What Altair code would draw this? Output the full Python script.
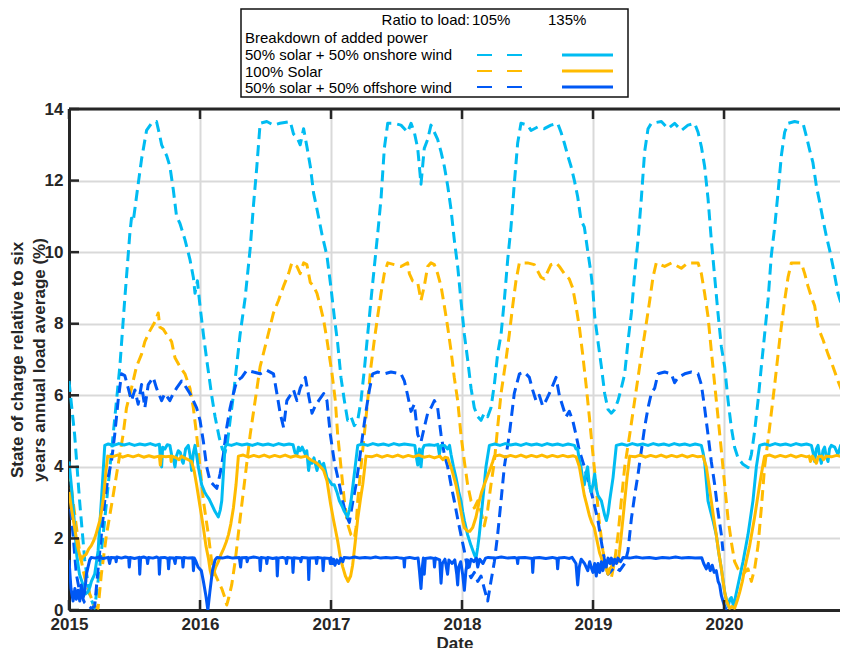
import altair as alt
import pandas as pd

# ---------------- data (decimal year, state of charge %) ----------------
onshore_105 = [
(2015.000, 6.4), (2015.043, 4.9), (2015.082, 3.0), (2015.120, 1.4), (2015.158, 0.4), (2015.196, 0.05), (2015.235, 1.2),
(2015.286, 3.0), (2015.337, 4.9), (2015.388, 6.8), (2015.426, 8.7), (2015.464, 10.5), (2015.477, 10.95), (2015.490, 10.85),
(2015.528, 11.9), (2015.554, 12.6), (2015.592, 13.4), (2015.630, 13.6), (2015.668, 13.65), (2015.690, 13.3), (2015.707, 13.0),
(2015.745, 12.7), (2015.770, 12.4), (2015.796, 11.75), (2015.821, 11.0), (2015.847, 10.8), (2015.885, 10.35), (2015.923, 9.8),
(2015.949, 9.3), (2015.962, 8.85), (2015.980, 9.2), (2016.000, 8.5), (2016.026, 7.7), (2016.051, 7.0), (2016.089, 6.0),
(2016.115, 5.4), (2016.148, 4.8), (2016.170, 4.5), (2016.191, 4.4), (2016.210, 4.7), (2016.230, 5.3), (2016.255, 6.0),
(2016.306, 7.7), (2016.344, 8.7), (2016.383, 10.1), (2016.408, 11.3), (2016.434, 12.4), (2016.459, 13.6), (2016.510, 13.65),
(2016.561, 13.55), (2016.610, 13.6), (2016.689, 13.65), (2016.714, 13.3), (2016.740, 13.2), (2016.753, 13.1), (2016.765, 13.0),
(2016.791, 13.45), (2016.816, 12.95), (2016.842, 12.4), (2016.867, 11.65), (2016.893, 11.2), (2016.931, 10.5), (2016.969, 9.9),
(2017.000, 9.0), (2017.025, 8.2), (2017.051, 7.45), (2017.076, 6.5), (2017.102, 5.85), (2017.127, 5.3), (2017.153, 5.4),
(2017.178, 5.15), (2017.204, 5.3), (2017.229, 5.85), (2017.254, 6.7), (2017.280, 7.7), (2017.305, 8.65), (2017.331, 9.6),
(2017.356, 10.5), (2017.382, 11.5), (2017.407, 12.9), (2017.433, 13.6), (2017.483, 13.6), (2017.534, 13.55), (2017.585, 13.35),
(2017.611, 13.6), (2017.636, 13.35), (2017.662, 12.9), (2017.687, 11.9), (2017.712, 12.9), (2017.738, 13.15), (2017.763, 13.55),
(2017.789, 13.35), (2017.814, 13.15), (2017.840, 12.8), (2017.865, 12.4), (2017.891, 11.85), (2017.916, 11.2), (2017.941, 10.35),
(2017.967, 9.6), (2017.992, 8.65), (2018.018, 7.7), (2018.043, 7.0), (2018.069, 6.2), (2018.094, 5.65), (2018.120, 5.4),
(2018.145, 5.3), (2018.170, 5.5), (2018.196, 5.4), (2018.221, 5.65), (2018.247, 6.3), (2018.272, 7.15), (2018.298, 7.7),
(2018.323, 8.65), (2018.349, 9.8), (2018.374, 10.7), (2018.399, 11.9), (2018.425, 13.05), (2018.450, 13.6), (2018.501, 13.55),
(2018.527, 13.4), (2018.578, 13.5), (2018.628, 13.45), (2018.679, 13.55), (2018.730, 13.6), (2018.756, 13.35), (2018.781, 13.05),
(2018.807, 12.7), (2018.832, 12.4), (2018.858, 12.0), (2018.883, 11.55), (2018.908, 10.9), (2018.934, 10.7), (2018.959, 10.05),
(2018.985, 9.4), (2019.000, 8.9), (2019.013, 8.2), (2019.038, 7.5), (2019.064, 6.8), (2019.089, 6.05), (2019.115, 5.6),
(2019.140, 5.5), (2019.165, 5.6), (2019.191, 5.85), (2019.216, 6.2), (2019.242, 6.6), (2019.267, 7.5), (2019.293, 8.3),
(2019.318, 9.4), (2019.344, 10.35), (2019.369, 11.5), (2019.394, 12.8), (2019.420, 13.45), (2019.445, 13.6), (2019.522, 13.65),
(2019.573, 13.45), (2019.623, 13.6), (2019.674, 13.4), (2019.725, 13.55), (2019.776, 13.6), (2019.802, 13.35), (2019.827, 12.95),
(2019.852, 12.4), (2019.878, 11.5), (2019.903, 10.35), (2019.929, 9.3), (2019.954, 8.3), (2019.980, 7.35), (2020.005, 6.8),
(2020.031, 5.85), (2020.056, 5.1), (2020.081, 4.55), (2020.107, 4.25), (2020.145, 4.07), (2020.183, 3.98), (2020.209, 4.35),
(2020.234, 5.0), (2020.260, 5.85), (2020.285, 6.8), (2020.310, 7.7), (2020.336, 8.65), (2020.361, 9.9), (2020.387, 10.7),
(2020.412, 11.65), (2020.438, 12.7), (2020.463, 13.35), (2020.489, 13.6), (2020.539, 13.65), (2020.603, 13.6), (2020.628, 13.25),
(2020.654, 12.85), (2020.679, 12.5), (2020.705, 11.85), (2020.730, 11.4), (2020.756, 10.9), (2020.781, 10.45), (2020.807, 10.05),
(2020.832, 9.6), (2020.870, 8.85), (2020.908, 8.4), (2020.944, 7.55)]

solar_105 = [
(2015.000, 3.9), (2015.043, 2.7), (2015.082, 1.6), (2015.120, 0.9), (2015.158, 0.45), (2015.196, 0.1), (2015.222, 0.05),
(2015.247, 1.0), (2015.286, 2.1), (2015.337, 3.2), (2015.388, 4.35), (2015.413, 4.9), (2015.439, 5.65), (2015.477, 6.2),
(2015.515, 6.8), (2015.554, 7.15), (2015.579, 7.5), (2015.617, 7.8), (2015.656, 8.05), (2015.681, 8.3), (2015.694, 7.9),
(2015.719, 7.85), (2015.745, 7.7), (2015.783, 7.5), (2015.809, 7.05), (2015.847, 6.8), (2015.885, 6.6), (2015.923, 6.2),
(2015.949, 5.65), (2015.974, 4.9), (2016.000, 4.0), (2016.026, 3.05), (2016.064, 2.1), (2016.089, 1.35), (2016.115, 1.0),
(2016.140, 0.8), (2016.166, 0.6), (2016.191, 0.33), (2016.204, 0.14), (2016.220, 0.35), (2016.242, 0.7), (2016.268, 1.35),
(2016.306, 2.55), (2016.344, 3.7), (2016.383, 4.9), (2016.421, 5.85), (2016.459, 6.8), (2016.510, 7.55), (2016.561, 8.3),
(2016.599, 8.65), (2016.638, 9.05), (2016.676, 9.4), (2016.701, 9.7), (2016.740, 9.6), (2016.765, 9.4), (2016.791, 9.7),
(2016.816, 9.65), (2016.842, 9.15), (2016.867, 9.05), (2016.893, 8.85), (2016.918, 8.5), (2016.944, 8.1), (2016.969, 7.55),
(2017.008, 6.6), (2017.033, 5.85), (2017.051, 4.9), (2017.076, 4.0), (2017.102, 3.05), (2017.127, 2.4), (2017.153, 2.1),
(2017.178, 2.0), (2017.191, 2.3), (2017.204, 3.05), (2017.229, 4.0), (2017.254, 4.9), (2017.280, 5.85), (2017.305, 6.8),
(2017.331, 7.55), (2017.356, 8.2), (2017.382, 8.85), (2017.407, 9.4), (2017.433, 9.7), (2017.483, 9.65), (2017.534, 9.6),
(2017.585, 9.7), (2017.598, 9.4), (2017.623, 9.2), (2017.662, 9.15), (2017.687, 8.65), (2017.712, 9.05), (2017.738, 9.6),
(2017.763, 9.7), (2017.789, 9.65), (2017.814, 9.4), (2017.840, 9.05), (2017.865, 8.5), (2017.891, 7.9), (2017.916, 7.25),
(2017.941, 6.5), (2017.967, 5.85), (2017.992, 4.9), (2018.018, 4.15), (2018.043, 3.5), (2018.069, 3.05), (2018.094, 2.85),
(2018.120, 3.05), (2018.145, 2.75), (2018.170, 2.35), (2018.196, 2.8), (2018.221, 3.5), (2018.247, 4.15), (2018.272, 5.1),
(2018.298, 6.05), (2018.336, 7.0), (2018.361, 7.7), (2018.387, 8.5), (2018.412, 9.2), (2018.438, 9.7), (2018.501, 9.7),
(2018.552, 9.65), (2018.603, 9.3), (2018.628, 9.25), (2018.679, 9.65), (2018.718, 9.7), (2018.743, 9.6), (2018.781, 9.4),
(2018.819, 9.25), (2018.845, 9.0), (2018.870, 8.5), (2018.896, 7.9), (2018.921, 7.15), (2018.947, 6.3), (2018.972, 5.4),
(2018.997, 4.45), (2019.023, 3.5), (2019.045, 2.55), (2019.076, 1.65), (2019.115, 1.0), (2019.140, 0.9), (2019.165, 1.35),
(2019.191, 2.1), (2019.216, 3.05), (2019.242, 4.0), (2019.280, 4.9), (2019.318, 5.85), (2019.356, 6.8), (2019.394, 7.7),
(2019.433, 8.65), (2019.458, 9.3), (2019.483, 9.7), (2019.547, 9.6), (2019.600, 9.7), (2019.674, 9.55), (2019.725, 9.7),
(2019.802, 9.7), (2019.827, 9.4), (2019.852, 8.85), (2019.878, 8.2), (2019.903, 7.25), (2019.929, 6.3), (2019.954, 5.4),
(2019.980, 4.45), (2020.005, 3.5), (2020.031, 2.55), (2020.056, 1.9), (2020.081, 1.35), (2020.107, 1.15), (2020.145, 1.0),
(2020.183, 1.15), (2020.209, 0.8), (2020.234, 1.15), (2020.260, 1.8), (2020.285, 2.85), (2020.310, 4.0), (2020.348, 5.1),
(2020.387, 6.3), (2020.425, 7.55), (2020.463, 8.65), (2020.489, 9.3), (2020.514, 9.7), (2020.590, 9.7), (2020.616, 9.4),
(2020.641, 9.05), (2020.667, 8.75), (2020.692, 8.5), (2020.718, 7.9), (2020.756, 7.55), (2020.794, 7.15), (2020.832, 6.8),
(2020.870, 6.4), (2020.908, 6.05), (2020.944, 5.6)]

offshore_105 = [
(2015.000, 3.3), (2015.031, 2.1), (2015.056, 1.0), (2015.082, 0.5), (2015.120, 0.2), (2015.171, 0.05), (2015.196, 0.1),
(2015.222, 1.15), (2015.247, 2.1), (2015.273, 3.05), (2015.298, 3.7), (2015.324, 4.15), (2015.349, 4.9), (2015.375, 5.85),
(2015.401, 6.6), (2015.426, 6.55), (2015.452, 6.2), (2015.477, 5.85), (2015.503, 6.15), (2015.528, 5.75), (2015.554, 6.3),
(2015.579, 5.65), (2015.605, 6.3), (2015.643, 6.5), (2015.668, 6.2), (2015.707, 5.85), (2015.732, 6.05), (2015.770, 5.85),
(2015.796, 6.05), (2015.821, 6.2), (2015.860, 6.4), (2015.898, 6.2), (2015.923, 6.05), (2015.949, 5.85), (2015.974, 5.65),
(2016.000, 5.3), (2016.026, 4.7), (2016.051, 4.0), (2016.077, 3.6), (2016.102, 3.5), (2016.128, 3.4), (2016.153, 3.8),
(2016.179, 4.35), (2016.204, 5.1), (2016.230, 5.65), (2016.255, 6.05), (2016.281, 6.4), (2016.319, 6.5), (2016.357, 6.7),
(2016.408, 6.65), (2016.459, 6.6), (2016.510, 6.7), (2016.561, 6.6), (2016.587, 6.05), (2016.612, 5.5), (2016.638, 5.1),
(2016.663, 5.85), (2016.689, 6.0), (2016.714, 6.15), (2016.740, 5.85), (2016.765, 6.2), (2016.804, 6.5), (2016.829, 6.0),
(2016.855, 5.5), (2016.880, 5.7), (2016.906, 5.85), (2016.944, 6.05), (2016.969, 5.85), (2016.995, 4.9), (2017.025, 4.15),
(2017.064, 3.5), (2017.089, 3.05), (2017.115, 2.65), (2017.140, 2.45), (2017.165, 3.0), (2017.191, 3.5), (2017.216, 4.15),
(2017.242, 4.9), (2017.267, 5.55), (2017.293, 6.15), (2017.318, 6.6), (2017.356, 6.65), (2017.407, 6.6), (2017.458, 6.65),
(2017.534, 6.6), (2017.560, 6.4), (2017.585, 6.0), (2017.611, 5.55), (2017.636, 5.75), (2017.662, 4.9), (2017.687, 4.7),
(2017.712, 5.1), (2017.738, 5.5), (2017.763, 5.65), (2017.789, 5.85), (2017.814, 5.65), (2017.840, 4.9), (2017.865, 4.35),
(2017.891, 4.0), (2017.916, 3.5), (2017.941, 3.05), (2017.967, 2.55), (2017.992, 2.1), (2018.018, 1.65), (2018.043, 1.15),
(2018.069, 0.9), (2018.094, 1.05), (2018.120, 0.8), (2018.145, 0.95), (2018.170, 0.6), (2018.196, 0.25), (2018.221, 0.8),
(2018.247, 1.35), (2018.272, 2.1), (2018.298, 3.05), (2018.323, 4.0), (2018.361, 4.9), (2018.399, 6.05), (2018.438, 6.6),
(2018.476, 6.65), (2018.514, 6.5), (2018.539, 6.15), (2018.565, 5.85), (2018.590, 6.0), (2018.616, 5.7), (2018.641, 5.85),
(2018.679, 6.15), (2018.718, 6.5), (2018.743, 6.0), (2018.768, 5.7), (2018.794, 5.4), (2018.819, 5.55), (2018.845, 5.3),
(2018.870, 4.9), (2018.896, 4.45), (2018.934, 4.0), (2018.972, 3.5), (2019.000, 3.1), (2019.038, 2.5), (2019.064, 1.9),
(2019.089, 1.35), (2019.115, 1.0), (2019.165, 1.2), (2019.204, 1.1), (2019.242, 1.3), (2019.267, 1.65), (2019.293, 2.55),
(2019.318, 3.2), (2019.344, 3.8), (2019.369, 4.45), (2019.394, 5.1), (2019.420, 5.65), (2019.445, 6.05), (2019.471, 6.2),
(2019.496, 6.6), (2019.547, 6.65), (2019.598, 6.6), (2019.623, 6.35), (2019.649, 6.5), (2019.700, 6.6), (2019.751, 6.65),
(2019.802, 6.6), (2019.827, 6.3), (2019.852, 5.65), (2019.878, 4.9), (2019.903, 4.15), (2019.929, 3.5), (2019.954, 2.75),
(2019.980, 2.1), (2019.992, 1.65)]

onshore_135 = [
(2015.000, 4.15), (2015.020, 3.4), (2015.040, 2.5), (2015.060, 1.5), (2015.080, 1.0), (2015.107, 0.7), (2015.125, 0.45),
(2015.145, 0.5), (2015.160, 0.65), (2015.171, 0.8), (2015.196, 1.0), (2015.222, 1.65), (2015.247, 3.05), (2015.273, 4.6),
(2015.300, 4.64), (2015.340, 4.6), (2015.380, 4.65), (2015.420, 4.61), (2015.460, 4.65), (2015.500, 4.6), (2015.540, 4.64),
(2015.580, 4.61), (2015.620, 4.65), (2015.660, 4.6), (2015.690, 4.63), (2015.700, 4.1), (2015.707, 4.0), (2015.715, 4.55),
(2015.732, 4.5), (2015.750, 4.62), (2015.770, 4.6), (2015.785, 4.3), (2015.796, 4.25), (2015.809, 4.0), (2015.820, 4.3),
(2015.834, 4.45), (2015.850, 4.4), (2015.865, 4.15), (2015.872, 4.1), (2015.890, 4.5), (2015.911, 4.6), (2015.925, 4.3),
(2015.936, 3.9), (2015.950, 4.4), (2015.962, 4.6), (2015.975, 4.3), (2015.987, 4.0), (2016.013, 3.5), (2016.035, 3.3),
(2016.051, 3.2), (2016.070, 3.1), (2016.089, 2.95), (2016.115, 2.75), (2016.140, 2.6), (2016.155, 2.8), (2016.166, 3.05),
(2016.180, 3.9), (2016.191, 4.55), (2016.204, 4.63), (2016.240, 4.6), (2016.280, 4.65), (2016.320, 4.61), (2016.360, 4.64),
(2016.400, 4.6), (2016.440, 4.65), (2016.480, 4.61), (2016.520, 4.64), (2016.560, 4.6), (2016.600, 4.65), (2016.640, 4.61),
(2016.680, 4.64), (2016.710, 4.62), (2016.725, 4.4), (2016.740, 4.35), (2016.752, 4.55), (2016.765, 4.45), (2016.780, 4.55),
(2016.804, 4.35), (2016.815, 4.45), (2016.829, 3.9), (2016.840, 4.2), (2016.855, 4.1), (2016.870, 4.25), (2016.893, 3.9),
(2016.910, 4.15), (2016.925, 4.0), (2016.944, 4.1), (2016.969, 3.7), (2016.990, 3.6), (2017.008, 3.5), (2017.025, 3.5),
(2017.045, 3.3), (2017.064, 3.05), (2017.085, 2.9), (2017.102, 2.75), (2017.127, 2.6), (2017.140, 2.8), (2017.153, 3.05),
(2017.178, 3.8), (2017.204, 4.6), (2017.240, 4.64), (2017.280, 4.6), (2017.320, 4.65), (2017.360, 4.61), (2017.400, 4.64),
(2017.440, 4.6), (2017.480, 4.65), (2017.520, 4.61), (2017.560, 4.64), (2017.600, 4.62), (2017.640, 4.6), (2017.655, 4.2),
(2017.662, 4.05), (2017.675, 4.5), (2017.687, 4.0), (2017.700, 4.5), (2017.712, 4.6), (2017.750, 4.62), (2017.790, 4.6),
(2017.815, 4.63), (2017.827, 4.35), (2017.840, 4.6), (2017.865, 4.6), (2017.890, 4.5), (2017.905, 4.6), (2017.916, 4.35),
(2017.935, 4.0), (2017.954, 3.7), (2017.975, 3.3), (2017.992, 3.05), (2018.005, 2.75), (2018.018, 2.5), (2018.043, 2.1),
(2018.069, 1.8), (2018.094, 1.55), (2018.107, 1.45), (2018.120, 1.75), (2018.132, 2.1), (2018.158, 3.05), (2018.183, 4.0),
(2018.209, 4.6), (2018.250, 4.64), (2018.290, 4.6), (2018.330, 4.65), (2018.370, 4.61), (2018.410, 4.64), (2018.450, 4.6),
(2018.490, 4.65), (2018.530, 4.61), (2018.570, 4.64), (2018.610, 4.6), (2018.650, 4.65), (2018.690, 4.61), (2018.730, 4.64),
(2018.770, 4.6), (2018.810, 4.64), (2018.858, 4.6), (2018.870, 4.5), (2018.883, 4.5), (2018.895, 4.2), (2018.908, 4.0),
(2018.920, 3.7), (2018.934, 3.5), (2018.945, 3.8), (2018.959, 4.0), (2018.972, 3.5), (2018.985, 3.3), (2019.000, 3.5),
(2019.013, 3.8), (2019.025, 3.4), (2019.038, 3.2), (2019.064, 3.05), (2019.089, 2.65), (2019.102, 2.5), (2019.115, 2.7),
(2019.127, 3.05), (2019.153, 3.7), (2019.178, 4.6), (2019.220, 4.64), (2019.260, 4.6), (2019.300, 4.65), (2019.340, 4.61),
(2019.380, 4.64), (2019.420, 4.6), (2019.460, 4.65), (2019.500, 4.61), (2019.540, 4.64), (2019.580, 4.6), (2019.620, 4.65),
(2019.660, 4.61), (2019.700, 4.64), (2019.740, 4.6), (2019.780, 4.64), (2019.827, 4.6), (2019.840, 4.4), (2019.852, 4.15),
(2019.865, 3.6), (2019.878, 3.05), (2019.895, 2.8), (2019.916, 2.5), (2019.941, 2.1), (2019.960, 1.6), (2019.980, 1.15),
(2020.005, 0.5), (2020.031, 0.1), (2020.045, 0.3), (2020.056, 0.35), (2020.070, 0.15), (2020.081, 0.25), (2020.107, 0.7),
(2020.145, 1.35), (2020.183, 2.1), (2020.221, 3.05), (2020.247, 4.0), (2020.272, 4.6), (2020.310, 4.64), (2020.350, 4.6),
(2020.390, 4.65), (2020.430, 4.61), (2020.470, 4.64), (2020.510, 4.6), (2020.550, 4.65), (2020.590, 4.61), (2020.630, 4.64),
(2020.667, 4.6), (2020.680, 4.4), (2020.692, 4.15), (2020.705, 4.5), (2020.718, 4.6), (2020.730, 4.3), (2020.743, 4.1),
(2020.755, 4.45), (2020.768, 4.55), (2020.780, 4.3), (2020.794, 4.15), (2020.805, 4.5), (2020.819, 4.6), (2020.845, 4.55),
(2020.870, 4.35), (2020.890, 4.6), (2020.908, 4.6), (2020.925, 4.3), (2020.944, 4.1)]

solar_135 = [
(2015.000, 3.3), (2015.020, 2.8), (2015.043, 2.3), (2015.065, 1.8), (2015.090, 1.4), (2015.110, 1.5), (2015.130, 1.55),
(2015.150, 1.7), (2015.170, 1.8), (2015.190, 1.95), (2015.205, 2.1), (2015.220, 2.3), (2015.235, 2.5), (2015.250, 2.8),
(2015.265, 3.2), (2015.280, 3.8), (2015.295, 4.3), (2015.330, 4.28), (2015.370, 4.33), (2015.410, 4.27), (2015.450, 4.32),
(2015.490, 4.28), (2015.530, 4.33), (2015.570, 4.27), (2015.610, 4.31), (2015.650, 4.27), (2015.690, 4.3), (2015.697, 4.05),
(2015.705, 4.3), (2015.740, 4.28), (2015.775, 4.3), (2015.780, 4.15), (2015.787, 4.3), (2015.820, 4.25), (2015.840, 4.2),
(2015.860, 4.3), (2015.880, 4.25), (2015.910, 4.2), (2015.935, 4.15), (2015.955, 3.9), (2015.974, 3.5), (2016.000, 2.9),
(2016.026, 2.3), (2016.045, 1.8), (2016.064, 1.45), (2016.078, 1.1), (2016.089, 0.95), (2016.102, 1.0), (2016.120, 1.2),
(2016.140, 1.35), (2016.160, 1.55), (2016.179, 1.7), (2016.200, 1.9), (2016.217, 2.1), (2016.235, 2.4), (2016.255, 2.85),
(2016.275, 3.5), (2016.293, 4.3), (2016.330, 4.33), (2016.370, 4.27), (2016.410, 4.32), (2016.450, 4.28), (2016.490, 4.33),
(2016.530, 4.27), (2016.570, 4.32), (2016.610, 4.28), (2016.650, 4.33), (2016.690, 4.27), (2016.730, 4.31), (2016.770, 4.27),
(2016.810, 4.3), (2016.842, 4.2), (2016.870, 4.15), (2016.893, 4.1), (2016.920, 4.0), (2016.944, 3.9), (2016.970, 3.6),
(2016.995, 3.0), (2017.020, 2.5), (2017.050, 1.95), (2017.070, 1.5), (2017.090, 1.2), (2017.110, 0.95), (2017.130, 0.8),
(2017.150, 0.95), (2017.165, 1.25), (2017.185, 1.9), (2017.204, 2.55), (2017.225, 3.1), (2017.242, 3.5), (2017.255, 3.9),
(2017.267, 4.3), (2017.310, 4.28), (2017.350, 4.33), (2017.390, 4.27), (2017.430, 4.32), (2017.470, 4.28), (2017.510, 4.33),
(2017.550, 4.27), (2017.590, 4.32), (2017.630, 4.28), (2017.670, 4.33), (2017.710, 4.27), (2017.750, 4.3), (2017.790, 4.25),
(2017.830, 4.3), (2017.855, 4.2), (2017.870, 4.27), (2017.891, 4.25), (2017.905, 4.1), (2017.916, 4.0), (2017.935, 3.75),
(2017.954, 3.5), (2017.975, 3.1), (2017.992, 2.75), (2018.005, 2.5), (2018.018, 2.3), (2018.030, 2.25), (2018.043, 2.2),
(2018.060, 2.2), (2018.081, 2.3), (2018.107, 2.6), (2018.132, 3.05), (2018.150, 3.3), (2018.170, 3.5), (2018.195, 3.75),
(2018.221, 4.0), (2018.235, 4.15), (2018.247, 4.3), (2018.290, 4.33), (2018.330, 4.27), (2018.370, 4.32), (2018.410, 4.28),
(2018.450, 4.33), (2018.490, 4.27), (2018.530, 4.32), (2018.570, 4.28), (2018.610, 4.33), (2018.650, 4.27), (2018.690, 4.32),
(2018.730, 4.28), (2018.770, 4.32), (2018.810, 4.28), (2018.850, 4.31), (2018.870, 4.28), (2018.883, 4.15), (2018.896, 4.0),
(2018.915, 3.6), (2018.934, 3.2), (2018.955, 2.9), (2018.972, 2.65), (2018.990, 2.45), (2019.010, 2.3), (2019.030, 1.95),
(2019.050, 1.6), (2019.064, 1.45), (2019.076, 1.3), (2019.090, 1.2), (2019.100, 1.15), (2019.115, 1.0), (2019.127, 1.15),
(2019.140, 1.2), (2019.153, 1.35), (2019.165, 1.3), (2019.178, 1.35), (2019.191, 1.35), (2019.204, 1.7), (2019.216, 2.1),
(2019.230, 2.6), (2019.242, 3.05), (2019.260, 3.7), (2019.280, 4.3), (2019.320, 4.28), (2019.360, 4.33), (2019.400, 4.27),
(2019.440, 4.32), (2019.480, 4.28), (2019.520, 4.33), (2019.560, 4.27), (2019.600, 4.32), (2019.640, 4.28), (2019.680, 4.33),
(2019.720, 4.27), (2019.760, 4.32), (2019.800, 4.28), (2019.840, 4.3), (2019.852, 4.15), (2019.865, 4.0), (2019.885, 3.5),
(2019.903, 3.05), (2019.920, 2.6), (2019.941, 2.1), (2019.960, 1.6), (2019.980, 1.15), (2019.993, 0.8), (2020.005, 0.5),
(2020.020, 0.25), (2020.043, 0.05), (2020.060, 0.1), (2020.081, 0.05), (2020.100, 0.25), (2020.120, 0.5), (2020.140, 0.8),
(2020.158, 1.15), (2020.178, 1.5), (2020.196, 1.8), (2020.215, 2.2), (2020.234, 2.6), (2020.253, 3.05), (2020.272, 3.5),
(2020.290, 3.9), (2020.310, 4.3), (2020.350, 4.33), (2020.390, 4.27), (2020.430, 4.32), (2020.470, 4.28), (2020.510, 4.33),
(2020.550, 4.27), (2020.590, 4.32), (2020.630, 4.28), (2020.650, 4.3), (2020.660, 4.15), (2020.675, 4.3), (2020.690, 4.2),
(2020.705, 4.1), (2020.720, 4.28), (2020.745, 4.3), (2020.760, 4.2), (2020.780, 4.3), (2020.820, 4.28), (2020.860, 4.32),
(2020.900, 4.28), (2020.944, 4.3)]

offshore_135 = [
(2015.000, 1.4), (2015.015, 0.6), (2015.031, 0.25), (2015.045, 0.6), (2015.056, 0.3), (2015.069, 0.55), (2015.082, 0.25),
(2015.094, 0.7), (2015.108, 0.35), (2015.120, 0.5), (2015.133, 1.0), (2015.145, 1.2), (2015.158, 1.4), (2015.170, 1.47),
(2015.200, 1.45), (2015.230, 1.48), (2015.260, 1.44), (2015.300, 1.47), (2015.310, 1.3), (2015.320, 1.47), (2015.355, 1.46),
(2015.360, 1.35), (2015.365, 1.48), (2015.400, 1.45), (2015.430, 1.48), (2015.455, 1.46), (2015.460, 1.2), (2015.467, 1.47),
(2015.500, 1.44), (2015.535, 1.47), (2015.540, 1.0), (2015.547, 1.46), (2015.570, 1.48), (2015.595, 1.45), (2015.600, 1.3),
(2015.607, 1.47), (2015.640, 1.45), (2015.670, 1.48), (2015.685, 1.45), (2015.690, 1.0), (2015.697, 1.46), (2015.730, 1.47),
(2015.755, 1.44), (2015.760, 1.15), (2015.767, 1.46), (2015.800, 1.45), (2015.810, 1.3), (2015.817, 1.47), (2015.850, 1.46),
(2015.865, 1.45), (2015.870, 1.2), (2015.877, 1.47), (2015.910, 1.45), (2015.945, 1.46), (2015.950, 1.1), (2015.957, 1.45),
(2015.970, 1.35), (2015.985, 1.2), (2016.010, 1.1), (2016.026, 0.8), (2016.045, 0.4), (2016.060, 0.0), (2016.075, 0.5),
(2016.095, 1.1), (2016.115, 1.4), (2016.130, 1.47), (2016.170, 1.45), (2016.210, 1.48), (2016.250, 1.45), (2016.300, 1.47),
(2016.310, 1.2), (2016.317, 1.46), (2016.355, 1.47), (2016.360, 1.35), (2016.367, 1.45), (2016.410, 1.48), (2016.455, 1.45),
(2016.460, 1.1), (2016.467, 1.47), (2016.505, 1.45), (2016.510, 1.3), (2016.517, 1.47), (2016.555, 1.44), (2016.585, 1.46),
(2016.590, 0.95), (2016.597, 1.45), (2016.630, 1.47), (2016.655, 1.44), (2016.660, 1.3), (2016.667, 1.47), (2016.705, 1.45),
(2016.710, 1.05), (2016.717, 1.46), (2016.765, 1.44), (2016.770, 1.35), (2016.777, 1.47), (2016.825, 1.45), (2016.830, 0.85),
(2016.837, 1.45), (2016.885, 1.46), (2016.890, 1.3), (2016.897, 1.47), (2016.935, 1.45), (2016.940, 1.1), (2016.947, 1.45),
(2016.990, 1.44), (2016.995, 1.3), (2017.000, 1.46), (2017.010, 1.3), (2017.020, 1.42), (2017.030, 1.25), (2017.045, 1.4),
(2017.060, 1.3), (2017.075, 1.45), (2017.090, 1.35), (2017.100, 1.47), (2017.140, 1.45), (2017.180, 1.48), (2017.220, 1.45),
(2017.260, 1.47), (2017.300, 1.45), (2017.340, 1.48), (2017.380, 1.45), (2017.420, 1.47), (2017.460, 1.45), (2017.500, 1.47),
(2017.530, 1.45), (2017.555, 1.44), (2017.560, 1.2), (2017.565, 1.45), (2017.600, 1.47), (2017.640, 1.44), (2017.665, 1.45),
(2017.675, 1.1), (2017.687, 0.6), (2017.697, 1.2), (2017.705, 1.45), (2017.712, 1.0), (2017.720, 1.44), (2017.760, 1.46),
(2017.785, 1.44), (2017.790, 1.2), (2017.797, 1.45), (2017.830, 1.4), (2017.840, 0.75), (2017.850, 1.3), (2017.870, 1.42),
(2017.890, 1.0), (2017.900, 1.4), (2017.925, 1.3), (2017.945, 1.4), (2017.960, 1.0), (2017.967, 0.7), (2017.975, 1.2),
(2017.990, 1.35), (2018.005, 1.0), (2018.018, 0.55), (2018.030, 1.1), (2018.043, 1.4), (2018.055, 1.2), (2018.069, 1.42),
(2018.090, 1.35), (2018.110, 1.45), (2018.120, 1.2), (2018.135, 1.42), (2018.160, 1.3), (2018.180, 1.45), (2018.200, 1.47),
(2018.250, 1.45), (2018.300, 1.48), (2018.350, 1.45), (2018.400, 1.47), (2018.420, 1.44), (2018.425, 1.3), (2018.430, 1.46),
(2018.480, 1.47), (2018.535, 1.44), (2018.540, 1.05), (2018.547, 1.45), (2018.590, 1.47), (2018.640, 1.44), (2018.690, 1.47),
(2018.725, 1.44), (2018.730, 1.15), (2018.737, 1.45), (2018.780, 1.47), (2018.820, 1.44), (2018.840, 1.47), (2018.870, 1.3),
(2018.883, 0.7), (2018.895, 1.2), (2018.910, 1.42), (2018.935, 1.3), (2018.960, 1.1), (2018.975, 1.35), (2018.990, 1.15),
(2019.000, 1.05), (2019.013, 1.3), (2019.025, 0.95), (2019.038, 1.3), (2019.051, 1.05), (2019.064, 1.35), (2019.076, 1.1),
(2019.089, 1.4), (2019.100, 1.2), (2019.115, 1.45), (2019.130, 1.3), (2019.140, 1.45), (2019.155, 1.25), (2019.165, 1.42),
(2019.180, 1.3), (2019.190, 1.45), (2019.210, 1.35), (2019.230, 1.47), (2019.280, 1.45), (2019.330, 1.48), (2019.380, 1.45),
(2019.430, 1.47), (2019.480, 1.44), (2019.530, 1.47), (2019.580, 1.45), (2019.630, 1.48), (2019.680, 1.45), (2019.730, 1.47),
(2019.780, 1.45), (2019.830, 1.46), (2019.845, 1.3), (2019.865, 1.15), (2019.880, 1.3), (2019.895, 1.1), (2019.910, 1.25),
(2019.925, 1.05), (2019.941, 1.1), (2019.955, 0.8), (2019.967, 0.7), (2019.980, 0.4), (2019.992, 0.25), (2020.005, 0.1),
(2020.018, 0.0)]

x_ticks = [2015, 2016, 2017, 2018, 2019, 2020]
y_ticks = [0, 2, 4, 6, 8, 10, 12, 14]

# ---------------- styling ----------------
CYAN, ORANGE, BLUE = "#00BCF2", "#FFBB00", "#0058F5"
DARK = "#262626"
GRID = "#d9d9d9"
FONT = "Liberation Sans"
W, H = 771, 501
DASH = [11, 6]

series = [
    ("onshore_105", onshore_105, CYAN, True),
    ("solar_105", solar_105, ORANGE, True),
    ("offshore_105", offshore_105, BLUE, True),
    ("onshore_135", onshore_135, CYAN, False),
    ("solar_135", solar_135, ORANGE, False),
    ("offshore_135", offshore_135, BLUE, False),
]

rows = []
for name, pts, _, _ in series:
    for t, v in pts:
        rows.append({"series": name, "year": t, "value": v})
df = pd.DataFrame(rows)

xscale = alt.Scale(domain=[2015, 2015 + W / 131.0], nice=False, zero=False)
yscale = alt.Scale(domain=[0, 14], nice=False, zero=False)

xaxis = alt.Axis(values=x_ticks, format="d", title="Date", grid=True, gridColor=GRID, gridWidth=2,
                 ticks=False, labelFlush=False, labelFontSize=17, labelFontWeight="bold", labelColor=DARK,
                 labelPadding=6, titleFontSize=17, titleFontWeight="bold", titleColor=DARK,
                 titleY=25, titleBaseline="top", domainColor=DARK, domainWidth=3, labelFont=FONT, titleFont=FONT)
yaxis = alt.Axis(values=y_ticks, title=["State of charge relative to six", "years annual load average (%)"],
                 grid=True, gridColor=GRID, gridWidth=2, ticks=False, labelFontSize=17, labelFontWeight="bold",
                 labelColor=DARK, labelPadding=6, titleFontSize=17, titleFontWeight="bold", titleColor=DARK,
                 titleX=-43, titleY=H / 2, titleBaseline="bottom", titleLineHeight=22, titleAngle=270,
                 domainColor=DARK, domainWidth=3, labelFont=FONT, titleFont=FONT, labelFlush=False)

X = alt.X("year:Q", scale=xscale, axis=xaxis)
Y = alt.Y("value:Q", scale=yscale, axis=yaxis)

layers = []
for name, pts, color, dashed in series:
    kw = dict(color=color, strokeWidth=3, clip=True, strokeJoin="round")
    if dashed:
        kw["strokeDash"] = DASH
    layers.append(
        alt.Chart(df).transform_filter(alt.datum.series == name).mark_line(**kw).encode(x=X, y=Y)
    )

# inward ticks (MATLAB style)
ytick_df = pd.DataFrame({"value": y_ticks})
xtick_df = pd.DataFrame({"year": x_ticks})
layers.append(alt.Chart(ytick_df).mark_rule(color=DARK, strokeWidth=2.5).encode(
    y=Y, x=alt.value(0), x2=alt.value(10)))
layers.append(alt.Chart(xtick_df).mark_rule(color=DARK, strokeWidth=2.5).encode(
    x=X, y=alt.value(H), y2=alt.value(H - 10)))
layers.append(alt.Chart(xtick_df).mark_rule(color=DARK, strokeWidth=2.5).encode(
    x=X, y=alt.value(0), y2=alt.value(10)))

one = pd.DataFrame({"k": [0]})
# top border of the box
layers.append(alt.Chart(one).mark_rule(color=DARK, strokeWidth=3).encode(
    x=alt.value(0), x2=alt.value(W), y=alt.value(0)))

# ---------------- legend box ----------------
layers.append(alt.Chart(one).mark_rect(fill="white", stroke="#111111", strokeWidth=1.5).encode(
    x=alt.value(172), x2=alt.value(559), y=alt.value(-100), y2=alt.value(-12)))

legend_texts = [
    ("Ratio to load:", 401, -89, "right"),
    ("105%", 403, -89, "left"),
    ("135%", 479, -89, "left"),
    ("Breakdown of added power", 176, -71, "left"),
    ("50% solar + 50% onshore wind", 176, -54, "left"),
    ("100% Solar", 176, -37, "left"),
    ("50% solar + 50% offshore wind", 176, -21, "left"),
]
for txt, tx, ty, al in legend_texts:
    layers.append(alt.Chart(one).mark_text(text=txt, align=al, baseline="middle", font=FONT,
                                           fontSize=15, color="black").encode(
        x=alt.value(tx), y=alt.value(ty)))

legend_lines = [(CYAN, -54), (ORANGE, -38), (BLUE, -22)]
for color, ly in legend_lines:
    layers.append(alt.Chart(one).mark_rule(color=color, strokeWidth=2.2, strokeDash=[15, 15]).encode(
        x=alt.value(408), x2=alt.value(453), y=alt.value(ly)))
    layers.append(alt.Chart(one).mark_rule(color=color, strokeWidth=3).encode(
        x=alt.value(493), x2=alt.value(544), y=alt.value(ly)))

chart = alt.layer(*layers).properties(
    width=W, height=H,
    padding={"left": 61, "top": 101, "right": 0, "bottom": 38},
    autosize=alt.AutoSizeParams(type="none"),
).configure_view(stroke=None).configure(font=FONT)

chart.save("out.html", embed_options={"renderer": "svg", "actions": False})
